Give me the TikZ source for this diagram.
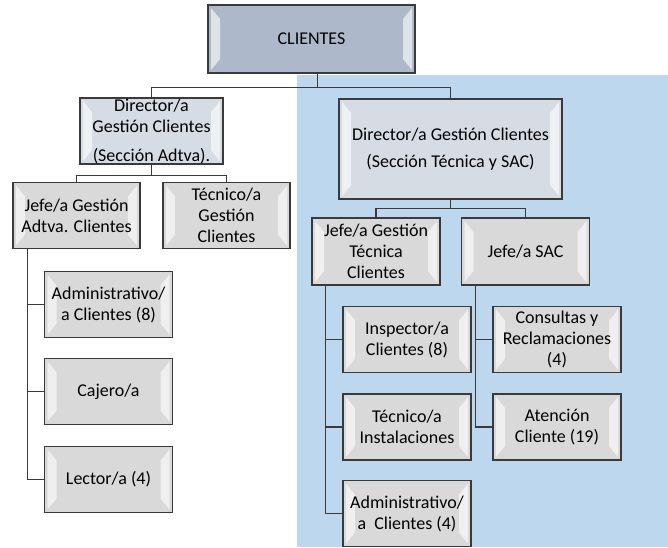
\documentclass[tikz,border=0pt]{standalone}
\usepackage{fontspec}
\setmainfont{Carlito}
\usepackage{xcolor}
\usetikzlibrary{positioning}

\definecolor{bgblue}{HTML}{BDD7EE}
\definecolor{topfill}{HTML}{ADB9CA}
\definecolor{dirfill}{HTML}{D6DCE4}
\definecolor{boxfill}{HTML}{D9D9D9}
\definecolor{edge}{HTML}{3A3A3A}

\begin{document}
\begin{tikzpicture}[
    x=1pt, y=-1pt,
    box/.style={draw=edge, line width=1.4pt, fill=boxfill, align=center,
        minimum width=128pt, minimum height=66pt, inner sep=1pt,
        font=\fontsize{18}{21}\selectfont,
        path picture={
            \fill[white, opacity=0.6]
                ([shift={(3pt,-3pt)}]path picture bounding box.north west) -- ++(9pt,-11pt)
                -- ([shift={(12pt,14pt)}]path picture bounding box.south west)
                -- ([shift={(3pt,3pt)}]path picture bounding box.south west) -- cycle;
            \fill[white, opacity=0.6]
                ([shift={(-3pt,-3pt)}]path picture bounding box.north east) -- ++(-9pt,-11pt)
                -- ([shift={(-12pt,14pt)}]path picture bounding box.south east)
                -- ([shift={(-3pt,3pt)}]path picture bounding box.south east) -- cycle;
        }},
    link/.style={draw=edge, line width=1.2pt},
]
    \useasboundingbox (0,0) rectangle (668,547);

    % Background panel
    \fill[bgblue] (297,75) rectangle (668,547);

    % Top level
    \node[box, fill=topfill, minimum width=207pt, minimum height=68pt] (clientes) at (311.5,39) {CLIENTES};

    % Directors
    \node[box, fill=dirfill, minimum width=143pt, inner sep=0pt] (dirA) at (151.5,131)
        {Director/a\\Gestión Clientes\\[8pt](Sección Adtva).};
    \node[box, fill=dirfill, minimum width=223pt, minimum height=100pt] (dirB) at (450.5,149)
        {Director/a Gestión Clientes\\[6pt](Sección Técnica y SAC)};

    % Second row
    \node[box, minimum width=127pt] (jefeA) at (76.5,215.5) {Jefe/a Gestión\\Adtva. Clientes};
    \node[box, minimum width=127pt] (tecA) at (226.5,215.5) {Técnico/a\\Gestión\\Clientes};
    \node[box, minimum height=67pt] (jefeT) at (376,251.5) {Jefe/a Gestión\\Técnica\\Clientes};
    \node[box, minimum height=67pt] (jefeS) at (525.5,251.5) {Jefe/a SAC};

    % Staff (left)
    \node[box] (admA) at (108.5,304.5) {Administrativo/\\a Clientes (8)};
    \node[box] (cajero) at (108.5,391.5) {Cajero/a};
    \node[box] (lector) at (108.5,479.5) {Lector/a (4)};

    % Staff (right)
    \node[box] (insp) at (407,339.5) {Inspector/a\\Clientes (8)};
    \node[box] (tecI) at (407,427) {Técnico/a\\Instalaciones};
    \node[box] (admT) at (407,513.5) {Administrativo/\\a~~Clientes (4)};
    \node[box] (consultas) at (557,339.5) {Consultas y\\Reclamaciones\\(4)};
    \node[box] (atencion) at (557,427) {Atención\\Cliente (19)};

    % Connectors
    \coordinate (busTop) at ([xshift=6pt, yshift=-14pt]clientes.south);
    \draw[link] ([xshift=6pt]clientes.south) -- (busTop);
    \draw[link] (dirA.north) |- (busTop) -| (dirB.north);

    \coordinate (busA) at ([yshift=-11pt]dirA.south);
    \draw[link] (dirA.south) -- (busA);
    \draw[link] (jefeA.north) |- (busA) -| (tecA.north);

    \coordinate (busB) at ([yshift=-9pt]dirB.south);
    \draw[link] (dirB.south) -- (busB);
    \draw[link] (jefeT.north) |- (busB) -| (jefeS.north);

    \foreach \n in {admA, cajero, lector}
        \draw[link] ([xshift=15pt]jefeA.south west) |- (\n.west);
    \foreach \n in {insp, tecI, admT}
        \draw[link] ([xshift=14pt]jefeT.south west) |- (\n.west);
    \foreach \n in {consultas, atencion}
        \draw[link] ([xshift=15pt]jefeS.south west) |- (\n.west);
\end{tikzpicture}
\end{document}
